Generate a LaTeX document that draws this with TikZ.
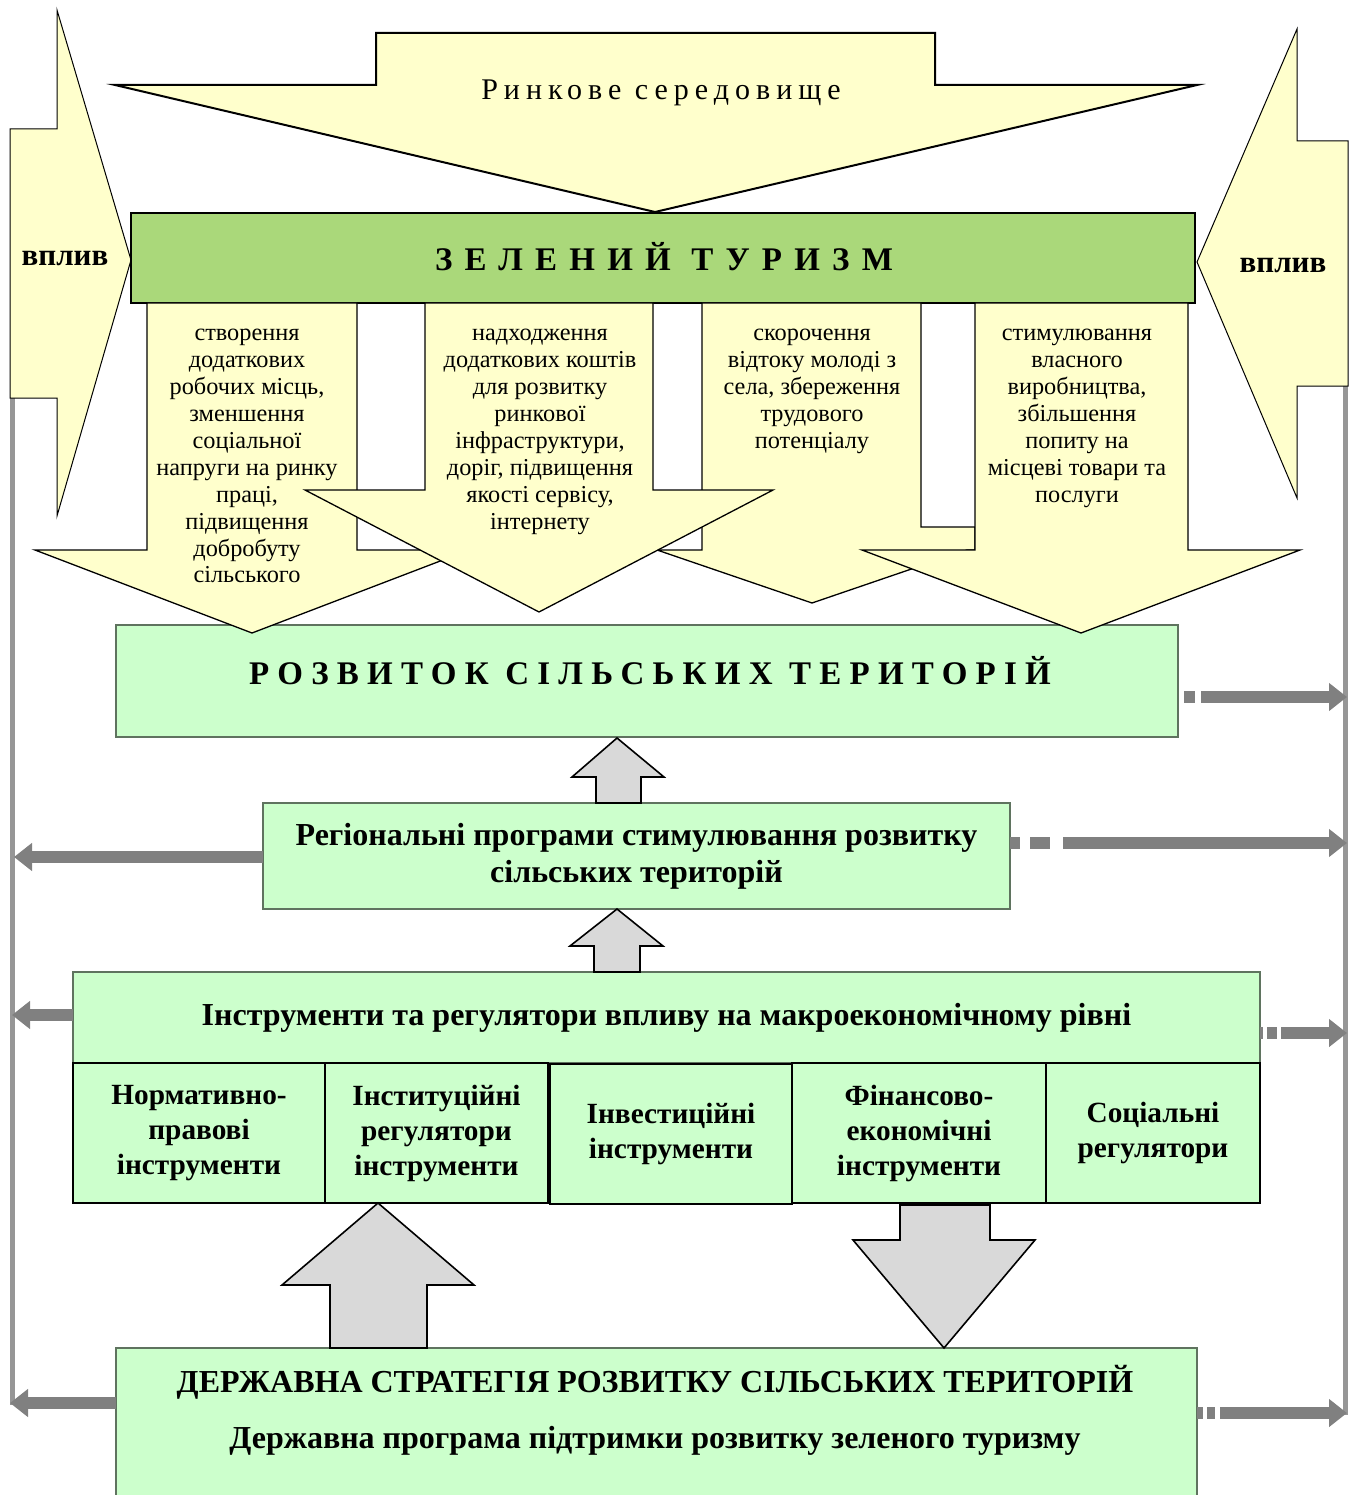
\documentclass[tikz,border=0pt]{standalone}
\usepackage{fontspec}
\setmainfont{Liberation Serif}
\usetikzlibrary{arrows.meta}

\definecolor{pale}{RGB}{255,255,204}
\definecolor{leaf}{RGB}{170,216,122}
\definecolor{mint}{RGB}{204,255,204}
\definecolor{steel}{RGB}{128,128,128}
\definecolor{railgray}{RGB}{150,150,150}
\definecolor{cloud}{RGB}{217,217,217}
\definecolor{boxedge}{RGB}{95,115,95}

\newcommand\armfont{\fontsize{24.3}{26.9}\selectfont}
\newcommand\boxfont{\fontsize{32}{37}\selectfont\bfseries}
\newcommand\subfont{\fontsize{29.3}{35}\selectfont\bfseries}

\tikzset{
  every node/.style={inner sep=0pt, outer sep=0pt},
  yarrow/.style={fill=pale, draw=black, line width=1.3pt, line join=miter},
  blockarrow/.style={fill=cloud, draw=black, line width=1.6pt},
  rail/.style={draw=railgray, line width=5pt},
  sidearrow/.style={draw=steel, line width=12pt, -{Triangle[length=18pt,width=27pt]}},
  armtext/.style={align=center, anchor=north, font=\armfont},
  mintbox/.style={draw=boxedge, fill=mint, line width=1.4pt},
  subbox/.style={draw=black, fill=mint, line width=2pt, minimum height=140, align=center, font=\subfont},
}

\begin{document}
\begin{tikzpicture}[x=1pt,y=-1pt]
\useasboundingbox (0,0) rectangle (1355,1495);

% side rails
\coordinate (ltop) at (12,398);
\coordinate (lbot) at (12,1405);
\coordinate (rtop) at (1345,386);
\coordinate (rbot) at (1345,1415);
\draw[rail] (ltop) -- (lbot);
\draw[rail] (rtop) -- (rbot);

% influence arrows
\filldraw[yarrow, line width=1pt] (10,129) -- (57,129) -- (57,10) -- (131,260) -- (57,516) -- (57,398) -- (10,398) -- cycle;
\filldraw[yarrow, line width=1pt] (1348,141) -- (1297,141) -- (1297,29) -- (1197,262) -- (1297,498) -- (1297,386) -- (1348,386) -- cycle;
\node[anchor=base, font=\fontsize{31}{34}\selectfont\bfseries] (vleft) at (65,266) {вплив};
\node[anchor=base, font=\fontsize{31}{34}\selectfont\bfseries] (vright) at (1283,273) {вплив};

% market arrow
\filldraw[yarrow, line width=2pt] (376,33) -- (935,33) -- (935,85) -- (1197,85) -- (655,212) -- (115,85) -- (376,85) -- cycle;
\node[anchor=base, font=\fontsize{30}{34}\selectfont\addfontfeature{LetterSpace=20}] (market) at (661,100) {Ринкове середовище};

% green tourism
\node[draw=black, fill=leaf, line width=2pt, minimum width=1064, minimum height=90] (tourism) at (663,258) {};
\node[anchor=base, font=\fontsize{33}{36}\selectfont\bfseries\addfontfeature{LetterSpace=37}] (tourismt) at (664,271) {ЗЕЛЕНИЙ ТУРИЗМ};

% rural development box
\node[mintbox, minimum width=1062, minimum height=112] (rural) at (647,681) {};
\node[anchor=base, font=\fontsize{33}{36}\selectfont\bfseries\addfontfeature{LetterSpace=25}] (ruralt) at (650,684) {РОЗВИТОК СІЛЬСЬКИХ ТЕРИТОРІЙ};

% effect arrows
\filldraw[yarrow] (147,303) -- (357,303) -- (357,550) -- (469,550) -- (252,633) -- (35,550) -- (147,550) -- cycle;
\filldraw[yarrow] (702,303) -- (921,303) -- (921,527) -- (975,527) -- (975,550) -- (967,550) -- (812,603) -- (657,550) -- (702,550) -- cycle;
\filldraw[yarrow] (425,303) -- (653,303) -- (653,490) -- (773,490) -- (539,612) -- (305,490) -- (425,490) -- cycle;
\filldraw[yarrow] (975,303) -- (1188,303) -- (1188,550) -- (1300,550) -- (1081,633) -- (862,550) -- (975,550) -- cycle;

\node[armtext] (eff1) at (247,322) {\strut створення\\додаткових\\робочих місць,\\зменшення\\соціальної\\напруги на ринку\\праці,\\підвищення\\добробуту\\сільського};
\node[armtext] (eff2) at (540,322) {\strut надходження\\додаткових коштів\\для розвитку\\ринкової\\інфраструктури,\\доріг, підвищення\\якості сервісу,\\інтернету};
\node[armtext] (eff3) at (812,322) {\strut скорочення\\відтоку молоді з\\села, збереження\\трудового\\потенціалу};
\node[armtext] (eff4) at (1077,322) {\strut стимулювання\\власного\\виробництва,\\збільшення\\попиту на\\місцеві товари та\\послуги};

% regional programs
\node[mintbox, minimum width=747, minimum height=106, align=center, font=\boxfont] (regional) at (636.5,856) {Регіональні програми стимулювання розвитку\\сільських територій};

% instruments
\node[mintbox, minimum width=1187, minimum height=91, font=\boxfont] (instr) at (666.5,1017.5) {Інструменти та регулятори впливу на макроекономічному рівні};

\node[subbox, minimum width=252] (norm) at (199,1133) {Нормативно-\\правові\\інструменти};
\node[subbox, minimum width=223] (inst) at (436.5,1133) {Інституційні\\регулятори\\інструменти};
\node[subbox, minimum width=242] (invest) at (671,1134) {Інвестиційні\\інструменти};
\node[subbox, minimum width=254] (fin) at (919,1133) {Фінансово-\\економічні\\інструменти};
\node[subbox, minimum width=214] (soc) at (1153,1133) {Соціальні\\регулятори};

% state strategy
\node[mintbox, minimum width=1081, minimum height=160] (state) at (656.5,1428) {};
\node[anchor=base, font=\boxfont] (statet1) at (655,1392) {ДЕРЖАВНА СТРАТЕГІЯ РОЗВИТКУ СІЛЬСЬКИХ ТЕРИТОРІЙ};
\node[anchor=base, font=\boxfont] (statet2) at (655,1448) {Державна програма підтримки розвитку зеленого туризму};

% block arrows
\filldraw[blockarrow] (596,803) -- (596,777) -- (572,777) -- (617,738) -- (664,777) -- (641,777) -- (641,803) -- cycle;
\filldraw[blockarrow] (594,972) -- (594,946) -- (570,946) -- (617,909) -- (663,946) -- (640,946) -- (640,972) -- cycle;
\filldraw[blockarrow] (330,1348) -- (330,1285) -- (282,1285) -- (378,1203) -- (474,1285) -- (427,1285) -- (427,1348) -- cycle;
\filldraw[blockarrow] (900,1205) -- (990,1205) -- (990,1240) -- (1035,1240) -- (944,1348) -- (853,1240) -- (900,1240) -- cycle;

% links to the rails
\coordinate (r1) at (1347,697);
\coordinate (r2) at (1347,843);
\coordinate (r3) at (1347,1033);
\coordinate (r4) at (1347,1413);
\coordinate (l1) at (14,857);
\coordinate (l2) at (12,1015);
\coordinate (l3) at (10,1403);
\draw[sidearrow, dash pattern=on 0pt off 6pt on 11pt off 6pt on 2000pt] (rural.east |- r1) -- (r1);
\draw[sidearrow, dash pattern=on 10pt off 10pt on 20pt off 13pt on 2000pt] (regional.east |- r2) -- (r2);
\draw[sidearrow, dash pattern=on 3pt off 4pt on 10pt off 4pt on 2000pt] (instr.east |- r3) -- (r3);
\draw[sidearrow, dash pattern=on 6pt off 4pt on 8pt off 5pt on 2000pt] (state.east |- r4) -- (r4);
\draw[sidearrow] (regional.west |- l1) -- (l1);
\draw[sidearrow] (instr.west |- l2) -- (l2);
\draw[sidearrow] (state.west |- l3) -- (l3);

\end{tikzpicture}
\end{document}
